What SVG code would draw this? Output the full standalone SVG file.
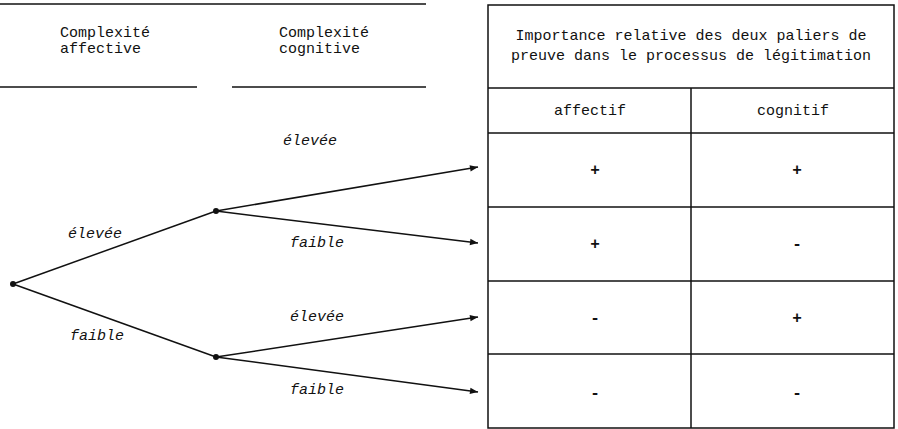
<svg xmlns="http://www.w3.org/2000/svg" width="898" height="429" viewBox="0 0 898 429">
<style>
text{font-family:"Liberation Mono","DejaVu Sans Mono",monospace;font-size:15px;fill:#111}
.it{font-style:italic}
.c{text-anchor:middle}
.s{font-size:16px;font-weight:bold}
.ln{stroke:#111;stroke-width:1.5;fill:none}
.dot{fill:#111}
</style>
<defs>
<marker id="ah" viewBox="0 0 10 10" refX="10" refY="5" markerWidth="12" markerHeight="8" markerUnits="userSpaceOnUse" orient="auto">
<path d="M0,1 L10,5 L0,9 Z" fill="#111"/>
</marker>
</defs>
<g id="headers">
<line class="ln" x1="0" y1="4" x2="426" y2="4"/>
<line class="ln" x1="0" y1="87" x2="197" y2="87"/>
<line class="ln" x1="232" y1="87" x2="426" y2="87"/>
<text x="60" y="37">Complexité</text>
<text x="60" y="53">affective</text>
<text x="279" y="37">Complexité</text>
<text x="279" y="53">cognitive</text>
</g>
<g id="table">
<rect class="ln" x="488" y="5" width="406" height="423"/>
<line class="ln" x1="488" y1="88" x2="894" y2="88"/>
<line class="ln" x1="488" y1="133" x2="894" y2="133"/>
<line class="ln" x1="488" y1="207" x2="894" y2="207"/>
<line class="ln" x1="488" y1="281" x2="894" y2="281"/>
<line class="ln" x1="488" y1="354" x2="894" y2="354"/>
<line class="ln" x1="691" y1="88" x2="691" y2="428"/>
<text class="c" x="691" y="40">Importance relative des deux paliers de</text>
<text class="c" x="691" y="60">preuve dans le processus de légitimation</text>
<text class="c" x="590" y="115">affectif</text>
<text class="c" x="793" y="115">cognitif</text>
<text class="c s" x="595" y="175">+</text>
<text class="c s" x="797" y="175">+</text>
<text class="c s" x="595" y="249">+</text>
<text class="c s" x="797" y="249">-</text>
<text class="c s" x="595" y="323">-</text>
<text class="c s" x="797" y="323">+</text>
<text class="c s" x="595" y="398">-</text>
<text class="c s" x="797" y="398">-</text>
</g>
<g id="connectors">
<line class="ln" x1="13" y1="284" x2="216" y2="211"/>
<line class="ln" x1="13" y1="284" x2="216" y2="357"/>
<line class="ln" x1="216" y1="211" x2="478" y2="167" marker-end="url(#ah)"/>
<line class="ln" x1="216" y1="211" x2="478" y2="243" marker-end="url(#ah)"/>
<line class="ln" x1="216" y1="357" x2="478" y2="317" marker-end="url(#ah)"/>
<line class="ln" x1="216" y1="357" x2="478" y2="392" marker-end="url(#ah)"/>
</g>
<g id="n-root"><circle class="dot" cx="13" cy="284" r="3"/></g>
<g id="n-high"><circle class="dot" cx="216" cy="211" r="3"/></g>
<g id="n-low"><circle class="dot" cx="216" cy="357" r="3"/></g>
<g id="labels">
<text class="it" x="68" y="238">élevée</text>
<text class="it" x="70" y="340">faible</text>
<text class="it" x="283" y="145">élevée</text>
<text class="it" x="290" y="247">faible</text>
<text class="it" x="290" y="321">élevée</text>
<text class="it" x="290" y="394">faible</text>
</g>
</svg>
